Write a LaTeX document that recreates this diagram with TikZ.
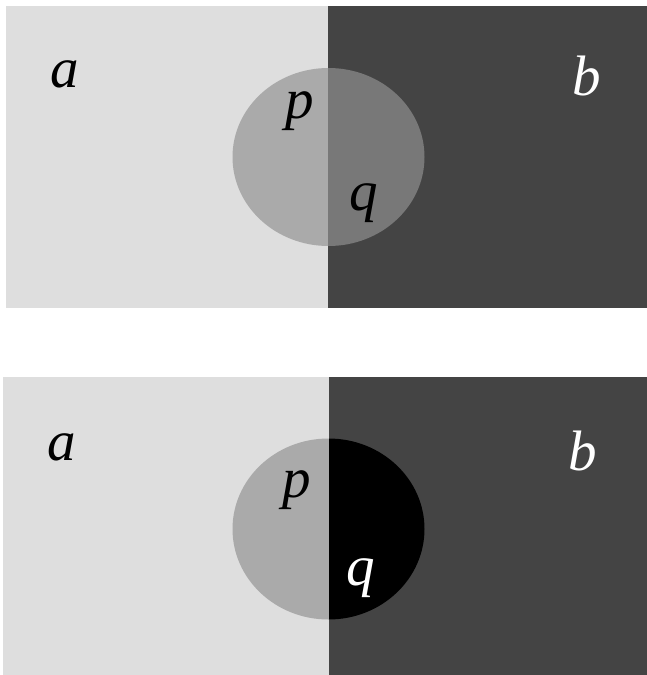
\documentclass[tikz,border=0pt]{standalone}
\usepackage{fontspec}
\setmainfont{Liberation Serif}
\definecolor{lightbg}{RGB}{222,222,222}
\definecolor{darkbg}{RGB}{68,68,68}
\definecolor{circL}{RGB}{170,170,170}
\definecolor{circR}{RGB}{120,120,120}
\begin{document}
\begin{tikzpicture}[x=1pt,y=-1pt,
  lab/.style={font=\fontsize{57}{60}\selectfont\itshape, inner sep=0pt, anchor=base}]
\useasboundingbox (0,0) rectangle (647,675);
% top panel
\fill[lightbg] (6,6) rectangle (328,308);
\fill[darkbg] (328,6) rectangle (647,308);
\begin{scope}
  \clip (6,6) rectangle (328,308);
  \fill[circL] (328.5,157) ellipse [x radius=96pt, y radius=89pt];
\end{scope}
\begin{scope}
  \clip (328,6) rectangle (647,308);
  \fill[circR] (328.5,157) ellipse [x radius=96pt, y radius=89pt];
\end{scope}
\node[lab] (a1) at (65,87) {a};
\node[lab, text=white] (b1) at (587,95) {b};
\node[lab] (p1) at (299.5,118) {p};
\node[lab] (q1) at (364,210) {q};
% bottom panel
\fill[lightbg] (3,377) rectangle (329,675);
\fill[darkbg] (329,377) rectangle (647,675);
\begin{scope}
  \clip (3,377) rectangle (329,675);
  \fill[circL] (328.5,529) ellipse [x radius=96pt, y radius=90.5pt];
\end{scope}
\begin{scope}
  \clip (329,377) rectangle (647,675);
  \fill[black] (328.5,529) ellipse [x radius=96pt, y radius=90.5pt];
\end{scope}
\node[lab] (a2) at (61.5,460) {a};
\node[lab, text=white] (b2) at (583,470) {b};
\node[lab] (p2) at (296.5,497) {p};
\node[lab, text=white] (q2) at (361,585) {q};
\end{tikzpicture}
\end{document}
